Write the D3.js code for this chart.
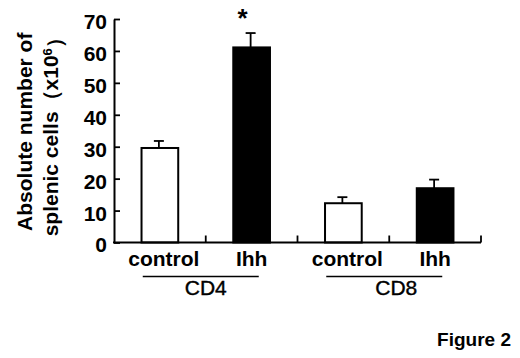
<!DOCTYPE html>
<html>
<head>
<meta charset="utf-8">
<script src="https://cdn.jsdelivr.net/npm/d3@7"></script>
<style>
  body { margin: 0; background: #fff; }
  svg text { font-family: Arial, "Liberation Sans", sans-serif; fill: #000; }
</style>
</head>
<body>
<svg id="chart" width="520" height="358"></svg>
<script>
// values
var groups = ["CD4", "CD4", "CD8", "CD8"]
var treatments = ["control", "Ihh", "control", "Ihh"]
var means = [29.6, 61.1, 12.3, 17.0]
var errors = [2.2, 4.5, 1.9, 2.7]
var significant = [false, true, false, false]
var yTicks = [0, 10, 20, 30, 40, 50, 60, 70]

var data = groups.map(function (g, i) {
    return { key: g + " " + treatments[i], group: g, treatment: treatments[i], mean: means[i], err: errors[i], star: significant[i] }
})

var dimensions = {
    width: 520,
    height: 358,
    margin: { top: 19, bottom: 115.5, left: 114, right: 39 }
}

var svg = d3.select("#chart")

var xScale = d3.scaleBand()
    .domain(data.map(d => d.key))
    .range([dimensions.margin.left, dimensions.width - dimensions.margin.right])
    .paddingInner(0.6)
    .paddingOuter(0.3)

var yScale = d3.scaleLinear()
    .domain([0, 70])
    .range([dimensions.height - dimensions.margin.bottom, dimensions.margin.top])

var base = yScale(0)
var step = xScale.step()

// bars
svg.append("g")
    .selectAll("rect")
    .data(data)
    .enter()
    .append("rect")
    .attr("x", d => xScale(d.key))
    .attr("y", d => yScale(d.mean))
    .attr("width", xScale.bandwidth())
    .attr("height", d => base - yScale(d.mean))
    .attr("fill", d => d.treatment == "control" ? "#fff" : "#000")
    .attr("stroke", "#000")
    .attr("stroke-width", 2)

// error bars (upper only)
var eb = svg.append("g").attr("stroke", "#000").attr("stroke-width", 1.8)
eb.selectAll(".stem")
    .data(data)
    .enter()
    .append("line")
    .attr("x1", d => xScale(d.key) + xScale.bandwidth() / 2 - 1)
    .attr("x2", d => xScale(d.key) + xScale.bandwidth() / 2 - 1)
    .attr("y1", d => yScale(d.mean))
    .attr("y2", d => yScale(d.mean + d.err))
eb.selectAll(".cap")
    .data(data)
    .enter()
    .append("line")
    .attr("x1", d => xScale(d.key) + xScale.bandwidth() / 2 - 6)
    .attr("x2", d => xScale(d.key) + xScale.bandwidth() / 2 + 4)
    .attr("y1", d => yScale(d.mean + d.err))
    .attr("y2", d => yScale(d.mean + d.err))

// significance star
svg.append("g")
    .selectAll("text")
    .data(data.filter(d => d.star))
    .enter()
    .append("text")
    .attr("x", d => xScale(d.key) + xScale.bandwidth() / 2 - 9)
    .attr("y", d => yScale(d.mean + d.err) - 6)
    .attr("text-anchor", "middle")
    .style("font-size", "26px")
    .style("font-weight", "bold")
    .text("*")

// y axis, ticks pointing inward
var yAxis = svg.append("g")
    .attr("transform", "translate(" + dimensions.margin.left + ",0)")
    .call(d3.axisLeft(yScale).tickValues(yTicks).tickSizeInner(-6).tickSizeOuter(0).tickPadding(7))
yAxis.select(".domain").attr("stroke-width", 2)
yAxis.selectAll(".tick line").attr("stroke-width", 1.8)
yAxis.selectAll("text")
    .attr("dy", "0.45em")
    .style("font-size", "21px")
    .style("font-weight", "bold")
    .style("font-family", "Arial, 'Liberation Sans', sans-serif")

// x axis line with ticks between categories
var xr = xScale.range()
svg.append("line")
    .attr("x1", xr[0] - 1).attr("x2", xr[1])
    .attr("y1", base).attr("y2", base)
    .attr("stroke", "#000").attr("stroke-width", 2)
svg.append("g")
    .selectAll("line")
    .data(data)
    .enter()
    .append("line")
    .attr("x1", d => xScale(d.key) + xScale.bandwidth() + step * 0.3)
    .attr("x2", d => xScale(d.key) + xScale.bandwidth() + step * 0.3)
    .attr("y1", base)
    .attr("y2", base - 7)
    .attr("stroke", "#000").attr("stroke-width", 1.8)

// category labels
svg.append("g")
    .selectAll("text")
    .data(data)
    .enter()
    .append("text")
    .attr("x", d => xScale(d.key) + xScale.bandwidth() / 2 + (d.treatment == "control" ? 4 : 0))
    .attr("y", base + 23.5)
    .attr("text-anchor", "middle")
    .style("font-size", "21px")
    .style("font-weight", "bold")
    .text(d => d.treatment)

// group underlines and names
var groupNames = Array.from(new Set(groups))
var groupCenter = function (g) {
    var keys = data.filter(d => d.group == g).map(d => d.key)
    return (xScale(keys[0]) + xScale(keys[keys.length - 1]) + xScale.bandwidth()) / 2
}
svg.append("g")
    .selectAll("line")
    .data(groupNames)
    .enter()
    .append("line")
    .attr("x1", g => groupCenter(g) - 63)
    .attr("x2", g => groupCenter(g) + 53)
    .attr("y1", base + 34)
    .attr("y2", base + 34)
    .attr("stroke", "#000").attr("stroke-width", 1.5)
svg.append("g")
    .selectAll("text")
    .data(groupNames)
    .enter()
    .append("text")
    .attr("x", (g, i) => groupCenter(g) + (i == 0 ? 0 : 7))
    .attr("y", base + 52.5)
    .attr("text-anchor", "middle")
    .style("font-size", "21px")
    .style("stroke", "#000")
    .style("stroke-width", 0.4)
    .text(g => g)

// y axis title, two lines
var midY = (yScale(0) + yScale(70)) / 2 + 1
var title = svg.append("g")
    .attr("transform", "translate(0," + midY + ") rotate(-90)")
    .style("font-size", "21px")
    .style("font-weight", "bold")
title.append("text")
    .attr("x", 0).attr("y", 32)
    .attr("text-anchor", "middle")
    .text("Absolute number of")
var t2 = title.append("text")
    .attr("x", 0).attr("y", 58)
    .attr("text-anchor", "middle")
t2.append("tspan").text("splenic cells（x10")
t2.append("tspan").attr("dy", "-0.5em").style("font-size", "13px").text("6")
t2.append("tspan").attr("dy", "0.5em").text("）")

svg.append("text")
    .attr("x", 511)
    .attr("y", 346)
    .attr("text-anchor", "end")
    .style("font-size", "19px")
    .style("font-weight", "bold")
    .text("Figure 2")
</script>
</body>
</html>
